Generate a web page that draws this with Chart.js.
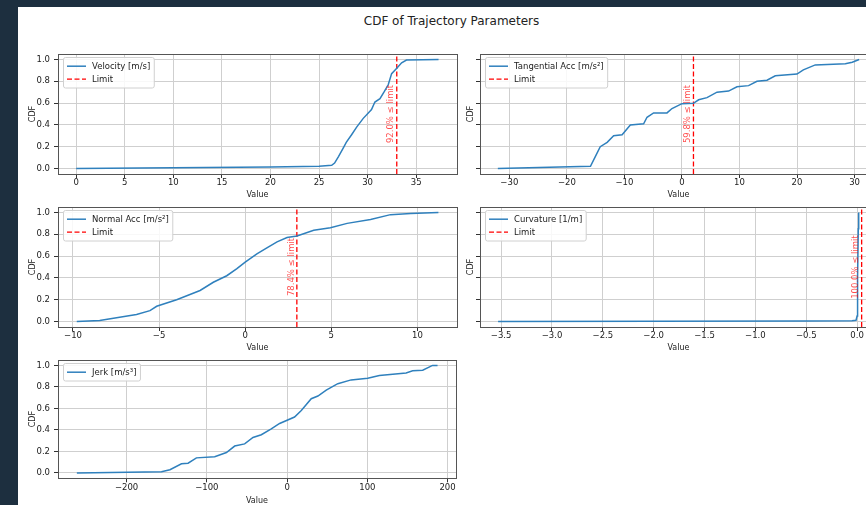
<!DOCTYPE html>
<html>
<head>
<meta charset="utf-8">
<script src="https://cdn.jsdelivr.net/npm/chart.js@4.4.1/dist/chart.umd.min.js"></script>
<style>
  html, body { margin: 0; padding: 0; width: 866px; height: 505px; overflow: hidden; background: #1d2f3f; }
  #fig { position: absolute; left: 18px; top: 7px; width: 880px; height: 510px; background: #fff; }
  #title { position: absolute; left: 18px; width: 867px; top: 14px; text-align: center;
           font: 12px "DejaVu Sans", sans-serif; color: #222; line-height: 15px; }
  canvas { position: absolute; }
</style>
</head>
<body>
<div id="fig"></div>
<div id="title">CDF of Trajectory Parameters</div>
<script>
// ---------------------------------------------------------------------------
// Data
// ---------------------------------------------------------------------------
const seriesNames = ["Velocity [m/s]", "Tangential Acc [m/s²]", "Normal Acc [m/s²]", "Curvature [1/m]", "Jerk [m/s³]"];

const velocityX   = [0, 10, 20, 25, 26.3, 26.6, 27.0, 27.5, 27.8, 28.35, 28.87, 29.55, 30.07, 30.4, 30.75, 31.27, 31.68, 32.13, 32.47, 33.0, 33.5, 34.0, 37.3];
const velocityCdf = [0, 0.008, 0.014, 0.02, 0.03, 0.05, 0.11, 0.19, 0.24, 0.31, 0.38, 0.46, 0.51, 0.54, 0.61, 0.64, 0.70, 0.77, 0.87, 0.92, 0.97, 0.995, 1.0];

const tangentialX   = [-32.0, -15.9, -15.06, -14.2, -13.0, -11.87, -10.4, -8.97, -6.66, -6.07, -4.93, -2.6, -1.73, 0.0, 2.0, 2.9, 4.35, 6.09, 8.1, 9.56, 11.58, 13.04, 14.78, 16.22, 19.99, 21.1, 23.17, 28.4, 29.6, 30.8];
const tangentialCdf = [0.0, 0.02, 0.11, 0.20, 0.24, 0.30, 0.31, 0.40, 0.41, 0.47, 0.51, 0.51, 0.55, 0.595, 0.598, 0.63, 0.65, 0.70, 0.71, 0.75, 0.76, 0.80, 0.81, 0.85, 0.866, 0.905, 0.95, 0.96, 0.975, 1.0];

const normalX   = [-9.78, -8.45, -7.47, -6.31, -5.53, -5.14, -3.98, -2.62, -1.85, -1.07, -0.48, 0.0, 0.68, 1.26, 1.85, 2.43, 3.01, 3.98, 4.95, 5.92, 7.28, 8.44, 9.61, 11.22];
const normalCdf = [0, 0.01, 0.035, 0.064, 0.10, 0.14, 0.20, 0.285, 0.36, 0.42, 0.485, 0.545, 0.62, 0.675, 0.73, 0.77, 0.784, 0.837, 0.86, 0.90, 0.935, 0.98, 0.99, 1.0];

const curvatureX   = [-3.53, -2.0, -0.5, -0.05, -0.01, 0.0, 0.005, 0.012, 0.016];
const curvatureCdf = [0, 0.002, 0.005, 0.008, 0.012, 0.05, 0.4, 0.85, 1.0];

const jerkX   = [-262, -156.5, -146, -131.6, -123.4, -113, -90.2, -75.6, -65.3, -52.9, -42.5, -32.1, -19.7, -9.3, 9.3, 17.7, 30.1, 38.4, 48.8, 63.2, 79.8, 100.5, 115, 148.3, 156.5, 169, 181.3, 187.5];
const jerkCdf = [0, 0.01, 0.03, 0.085, 0.09, 0.14, 0.15, 0.19, 0.25, 0.27, 0.33, 0.355, 0.41, 0.46, 0.52, 0.58, 0.69, 0.715, 0.77, 0.83, 0.865, 0.88, 0.905, 0.93, 0.95, 0.955, 1.0, 1.0];

const limits      = [33.0, 2.0, 3.0, 0.045, null];
const limitLabels = ["92.0% ≤ limit", "59.8% ≤ limit", "78.4% ≤ limit", "100.0% ≤ limit", null];

const xTicks = [
  [0, 5, 10, 15, 20, 25, 30, 35],
  [-30, -20, -10, 0, 10, 20, 30],
  [-10, -5, 0, 5, 10],
  [-3.5, -3.0, -2.5, -2.0, -1.5, -1.0, -0.5, 0.0],
  [-200, -100, 0, 100, 200],
];
const xDecimals = [0, 0, 0, 1, 0];
const xRanges = [[-1.87, 39.2], [-35.1, 33.9], [-10.87, 12.3], [-3.708, 0.196], [-285.5, 210.5]];
const yTicks = [0, 0.2, 0.4, 0.6, 0.8, 1.0];

// ---------------------------------------------------------------------------
// Styling
// ---------------------------------------------------------------------------
const FONT = "DejaVu Sans";
const TEXT = "#222";
const BLUE = "#2f80bd";
const RED  = "#ff0000";
const tickFont  = { family: FONT, size: 8.5 };
const labelFont = { family: FONT, size: 8 };

const minus = s => s.replace("-", "\u2212");

// plot frame (matplotlib spines on all four sides)
const framePlugin = {
  id: "frame",
  afterDatasetsDraw(chart) {
    const { ctx, chartArea: a } = chart;
    ctx.save();
    ctx.strokeStyle = "#555";
    ctx.lineWidth = 1;
    ctx.strokeRect(Math.round(a.left) + 0.5, Math.round(a.top) + 0.5,
                   Math.round(a.right - a.left), Math.round(a.bottom - a.top));
    ctx.restore();
  },
};

// legend box in the upper left of the axes
const boxLegendPlugin = {
  id: "boxLegend",
  afterDraw(chart) {
    const { ctx, chartArea: a } = chart;
    const items = chart.data.datasets;
    ctx.save();
    ctx.font = `8.5px "${FONT}"`;
    const tw = Math.max(...items.map(d => ctx.measureText(d.label).width));
    const x0 = a.left + 5.5, y0 = a.top + 3.5;
    const w = 28.5 + tw + 4, h = 17.5 + 13 * (items.length - 1);
    ctx.fillStyle = "rgba(255,255,255,0.85)";
    ctx.strokeStyle = "#d0d0d0";
    ctx.lineWidth = 1;
    ctx.beginPath();
    ctx.roundRect(x0, y0, w, h, 2);
    ctx.fill();
    ctx.stroke();
    items.forEach((d, i) => {
      const cy = y0 + 8.7 + 13 * i;
      ctx.strokeStyle = d.borderColor;
      ctx.lineWidth = d.borderWidth;
      ctx.setLineDash(d.borderDash || []);
      ctx.beginPath();
      ctx.moveTo(x0 + 3.5, cy);
      ctx.lineTo(x0 + 22.5, cy);
      ctx.stroke();
      ctx.setLineDash([]);
      ctx.fillStyle = TEXT;
      ctx.textBaseline = "middle";
      ctx.fillText(d.label, x0 + 28.5, cy + 0.5);
    });
    ctx.restore();
  },
};

// rotated "xx% ≤ limit" annotation next to the limit line
function limitTextPlugin(value, text) {
  return {
    id: "limitText",
    afterDatasetsDraw(chart) {
      if (value == null) return;
      const { ctx, scales } = chart;
      const x = scales.x.getPixelForValue(value) - 5.5;
      const y = scales.y.getPixelForValue(0.5);
      ctx.save();
      ctx.translate(x, y);
      ctx.rotate(-Math.PI / 2);
      ctx.font = `8.5px "${FONT}"`;
      ctx.fillStyle = "rgba(255,0,0,0.7)";
      ctx.textAlign = "center";
      ctx.textBaseline = "middle";
      ctx.fillText(text, 0, 0);
      ctx.restore();
    },
  };
}

// ---------------------------------------------------------------------------
// Panels
// ---------------------------------------------------------------------------
const panels = [
  { xs: velocityX,   ys: velocityCdf,   left: 20,  top: 44,  axisH: 28,   padRight: 8,  yLabels: true },
  { xs: tangentialX, ys: tangentialCdf, left: 442, top: 44,  axisH: 28,   padRight: 10, yLabels: false },
  { xs: normalX,     ys: normalCdf,     left: 20,  top: 197, axisH: 28,   padRight: 8,  yLabels: true },
  { xs: curvatureX,  ys: curvatureCdf,  left: 442, top: 197, axisH: 28,   padRight: 10, yLabels: false },
  { xs: jerkX,       ys: jerkCdf,       left: 20,  top: 350, axisH: 29.7, padRight: 9,  yLabels: true },
];

panels.forEach((p, i) => {
  const W = 445, H = 158;
  const canvas = document.createElement("canvas");
  canvas.width = W;
  canvas.height = H;
  canvas.style.left = p.left + "px";
  canvas.style.top = p.top + "px";
  document.body.appendChild(canvas);

  const datasets = [{
    label: seriesNames[i],
    data: p.xs.map((x, k) => ({ x, y: p.ys[k] })),
    borderColor: BLUE,
    borderWidth: 1.5,
    pointRadius: 0,
    showLine: true,
    tension: 0,
  }];
  if (limits[i] != null) {
    datasets.push({
      label: "Limit",
      data: [{ x: limits[i], y: -0.05 }, { x: limits[i], y: 1.05 }],
      borderColor: RED,
      borderWidth: 1.3,
      borderDash: [5, 2.5],
      pointRadius: 0,
      showLine: true,
    });
  }

  const grid = { color: "#cfcfcf", tickColor: "#333", tickLength: 4, lineWidth: 1 };

  new Chart(canvas, {
    type: "scatter",
    data: { datasets },
    options: {
      responsive: false,
      animation: false,
      devicePixelRatio: 1,
      layout: { padding: { left: 0, right: p.padRight, top: 10, bottom: 0 } },
      plugins: { legend: { display: false }, tooltip: { enabled: false } },
      scales: {
        x: {
          type: "linear",
          min: xRanges[i][0],
          max: xRanges[i][1],
          afterBuildTicks: s => { s.ticks = xTicks[i].map(v => ({ value: v })); },
          afterFit: s => { s.height = p.axisH; },
          ticks: {
            autoSkip: false, maxRotation: 0, padding: 0, font: tickFont, color: TEXT,
            callback: v => minus(Number(v).toFixed(xDecimals[i])),
          },
          grid,
          border: { display: false },
          title: { display: true, text: "Value", font: labelFont, color: TEXT, padding: { top: 0, bottom: 2 } },
        },
        y: {
          min: -0.05,
          max: 1.05,
          afterBuildTicks: s => { s.ticks = yTicks.map(v => ({ value: v })); },
          afterFit: s => { s.width = 38; },
          ticks: {
            padding: 4, font: tickFont, color: TEXT,
            callback: v => (p.yLabels ? Number(v).toFixed(1) : ""),
          },
          grid,
          border: { display: false },
          title: {
            display: true, text: "CDF", font: labelFont, color: TEXT,
            padding: { top: p.yLabels ? 8.5 : 24, bottom: 0 },
          },
        },
      },
    },
    plugins: [framePlugin, boxLegendPlugin, limitTextPlugin(limits[i], limitLabels[i])],
  });
});
</script>
</body>
</html>
